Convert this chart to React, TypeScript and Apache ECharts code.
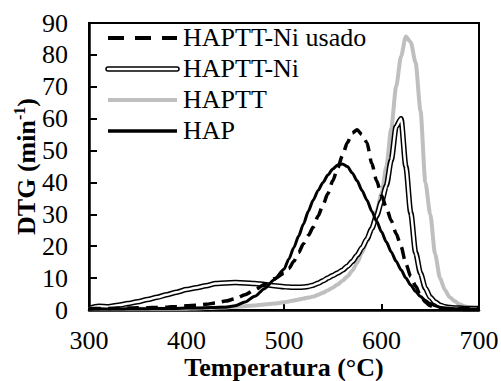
import React, { useEffect, useRef } from "react";
import * as echarts from "echarts";

const temps: number[] = [
  300, 310, 320, 330, 340, 350, 360, 370, 380, 390, 400, 410, 420, 430, 440, 450, 460, 470, 480, 490, 500,
  505, 510, 515, 520, 525, 530, 535, 540, 545, 550, 555, 560, 565, 570, 575, 580, 585, 590, 595, 600,
  605, 610, 615, 620, 625, 630, 635, 640, 645, 650, 655, 660, 665, 670, 675, 680, 685, 690, 695, 700,
];

const hapUsado: number[] = [
  0.5, 0.5, 0.5, 0.6, 0.6, 0.7, 0.7, 0.8, 0.9, 1.1, 1.3, 1.5, 1.8, 2.2, 2.8, 3.5, 4.8, 6.3, 8.0, 9.8, 11.5,
  13, 15.2, 18, 20.8, 23.4, 26, 29.5, 33, 36.5, 40.5, 44.5, 48.5, 52.5, 55.5, 56.5, 55, 52.5, 46, 40.5, 36,
  32, 28, 24, 20, 14.5, 10.5, 7.5, 4.5, 2.5, 1.3, 0.8, 0.6, 0.5, 0.5, 0.5, 0.5, 0.5, 0.5, 0.5, 0.5,
];

const hapttNi: number[] = [
  0.5, 1.2, 1.0, 1.5, 2.0, 2.6, 3.3, 4.0, 4.8, 5.6, 6.4, 7.0, 7.6, 8.3, 8.5, 8.6, 8.5, 8.3, 8.0, 7.6, 7.3,
  7.2, 7.1, 7.1, 7.2, 7.4, 7.8, 8.4, 9.2, 10, 10.8, 11.6, 12.5, 13.7, 15.2, 17.2, 19.5, 22.2, 25.5, 29.5, 34,
  39, 47, 57.5, 60, 45, 30.5, 18, 11.5, 6.8, 4, 2.5, 1.5, 1.0, 0.8, 0.6, 0.6, 0.5, 0.5, 0.5, 0.5,
];

const haptt: number[] = [
  0.4, 0.4, 0.4, 0.4, 0.4, 0.4, 0.4, 0.4, 0.4, 0.4, 0.4, 0.5, 0.6, 0.7, 0.8, 1.0, 1.2, 1.4, 1.7, 2.0, 2.4,
  2.7, 3.0, 3.3, 3.6, 3.9, 4.2, 4.8, 5.4, 6.2, 7, 8, 9.2, 10.5, 12.3, 14.8, 18, 21.5, 26, 31, 36.5,
  45, 57, 70, 79.5, 85.8, 84, 77.5, 62.5, 40, 30, 17.5, 10, 6.3, 4, 2.8, 1.8, 1.2, 0.8, 0.6, 0.5,
];

const hap: number[] = [
  0.3, 0.3, 0.3, 0.3, 0.4, 0.4, 0.4, 0.5, 0.5, 0.5, 0.6, 0.6, 0.7, 0.8, 0.9, 1.3, 2.5, 4.3, 6.7, 9.5, 12.8,
  16, 19.5, 23.2, 27, 31, 34.5, 37.5, 40, 42.3, 44.2, 45.5, 45.8, 45, 43, 40.5, 37.5, 34.5, 31, 27.8, 24.5,
  21.3, 18.2, 15.3, 12.6, 10, 7.8, 5.8, 4.2, 3, 2, 1.3, 0.9, 0.6, 0.5, 0.4, 0.4, 0.3, 0.3, 0.3, 0.3,
];

const legendNames: string[] = ["HAPTT-Ni usado", "HAPTT-Ni", "HAPTT", "HAP"];
const xTicks = { min: 300, max: 700, interval: 100 };
const yTicks = { min: 0, max: 90, interval: 10 };

const FONT = "Times New Roman";

const pairs = (vals: number[]) => temps.map((t, i) => [t, vals[i]]);

export default function App() {
  const ref = useRef<HTMLDivElement>(null);
  useEffect(() => {
    if (!ref.current) return;
    const chart = echarts.init(ref.current, undefined, { renderer: "svg" });
    const lineBase = { type: "line", showSymbol: false, symbol: "none", smooth: 0.25, smoothMonotone: "x" };
    const legY = [38, 69, 100, 131];
    const lx1 = 108;
    const lx2 = 177;
    const tx = 183;
    const graphics: any[] = [
      { type: "line", shape: { x1: lx1, y1: legY[0], x2: lx2, y2: legY[0] }, style: { stroke: "#000", lineWidth: 4, lineDash: [16, 11] }, z: 100 },
      { type: "line", shape: { x1: lx1, y1: legY[1], x2: lx2, y2: legY[1] }, style: { stroke: "#000", lineWidth: 5.5, lineCap: "round" }, z: 100 },
      { type: "line", shape: { x1: lx1, y1: legY[1], x2: lx2, y2: legY[1] }, style: { stroke: "#fff", lineWidth: 2.5, lineCap: "round" }, z: 101 },
      { type: "line", shape: { x1: lx1, y1: legY[2], x2: lx2, y2: legY[2] }, style: { stroke: "#bfbfbf", lineWidth: 4 }, z: 100 },
      { type: "line", shape: { x1: lx1, y1: legY[3], x2: lx2, y2: legY[3] }, style: { stroke: "#000", lineWidth: 3.5 }, z: 100 },
    ];
    legendNames.forEach((n, i) => {
      graphics.push({
        type: "text",
        x: tx,
        y: legY[i] - 14,
        style: { text: n, fontFamily: FONT, fontSize: 26, fill: "#000" },
      });
    });
    chart.setOption({
      animation: false,
      textStyle: { fontFamily: FONT },
      grid: {
        left: 89, right: 22, top: 23, bottom: 71,
        show: true, borderColor: "#000", borderWidth: 2,
        containLabel: false, outerBoundsMode: "none",
      },
      xAxis: {
        type: "value",
        min: xTicks.min,
        max: xTicks.max,
        interval: xTicks.interval,
        name: "Temperatura (°C)",
        nameLocation: "middle",
        nameGap: 45,
        nameMoveOverlap: false,
        nameTextStyle: { fontFamily: FONT, fontSize: 26, fontWeight: "bold", color: "#000", lineHeight: 24 },
        axisLine: { show: true, lineStyle: { color: "#000", width: 2.5 } },
        axisTick: { show: true, inside: true, length: 6, lineStyle: { color: "#000", width: 2 } },
        axisLabel: { fontFamily: FONT, fontSize: 26, color: "#000", margin: 18, lineHeight: 24 },
        splitLine: { show: false },
      },
      yAxis: {
        type: "value",
        min: yTicks.min,
        max: yTicks.max,
        interval: yTicks.interval,
        name: "{a|DTG (min}{s|-1}{a|)}",
        nameLocation: "middle",
        nameGap: 48,
        nameRotate: 90,
        nameMoveOverlap: false,
        nameTextStyle: {
          fontFamily: FONT,
          fontSize: 26,
          fontWeight: "bold",
          color: "#000",
          rich: {
            a: { fontFamily: FONT, fontSize: 26, fontWeight: "bold", color: "#000", lineHeight: 30 },
            s: { fontFamily: FONT, fontSize: 16, fontWeight: "bold", color: "#000", verticalAlign: "top", lineHeight: 30, padding: [0, 0, 12, 0] },
          },
        },
        axisLine: { show: true, lineStyle: { color: "#000", width: 2.5 } },
        axisTick: { show: true, inside: true, length: 8, lineStyle: { color: "#000", width: 2 } },
        axisLabel: { fontFamily: FONT, fontSize: 26, color: "#000", margin: 21 },
        splitLine: { show: false },
      },
      graphic: graphics,
      series: [
        { ...lineBase, name: "HAPTT", data: pairs(haptt), lineStyle: { color: "#bfbfbf", width: 4 }, z: 2 },
        { ...lineBase, name: "HAPTT-Ni", data: pairs(hapttNi), lineStyle: { color: "#000", width: 5.5 }, z: 3 },
        { ...lineBase, name: "HAPTT-Ni inner", data: pairs(hapttNi), lineStyle: { color: "#fff", width: 2.5 }, z: 4 },
        { ...lineBase, name: "HAPTT-Ni usado", data: pairs(hapUsado), lineStyle: { color: "#000", width: 3.5, type: [12, 7] }, z: 5 },
        { ...lineBase, name: "HAP", data: pairs(hap), lineStyle: { color: "#000", width: 3 }, z: 6 },
      ],
    });
    return () => chart.dispose();
  }, []);
  return <div ref={ref} style={{ width: 501, height: 381, position: "absolute", left: 0, top: 0, background: "#fff" }} />;
}
